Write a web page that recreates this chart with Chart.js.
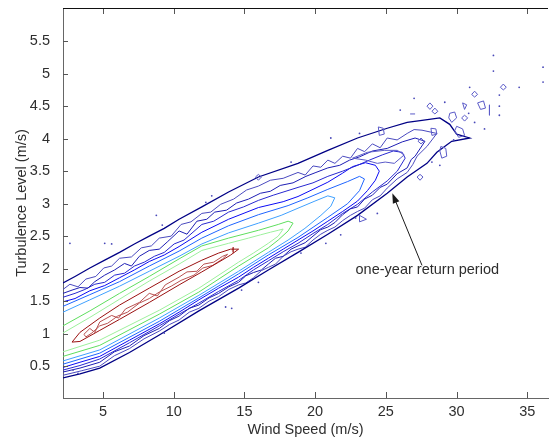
<!DOCTYPE html>
<html>
<head>
<meta charset="utf-8">
<script src="https://cdn.jsdelivr.net/npm/chart.js@4.4.1/dist/chart.umd.min.js"></script>
<style>
  html, body { margin: 0; padding: 0; background: #fff; }
  #wrap { width: 552px; height: 440px; }
</style>
</head>
<body>
<div id="wrap"><canvas id="c" width="552" height="440"></canvas></div>
<script>
// Axis ranges and tick values
const xRange = [2.17, 36.47];
const yRange = [0.01, 6.01];
const xTicks = [5, 10, 15, 20, 25, 30, 35];
const yTicks = [0.5, 1, 1.5, 2, 2.5, 3, 3.5, 4, 4.5, 5, 5.5];

// Contour lines of the joint density, [wind speed, turbulence level]
const returnPeriod = [[2.17,1.78],[3.02,1.88],[4.07,2.01],[5.12,2.13],[6.17,2.25],[7.22,2.38],[8.27,2.50],[9.33,2.62],[10.38,2.76],[11.99,2.95],[13.88,3.18],[15.99,3.41],[18.79,3.62],[20.90,3.82],[23.00,4.01],[25.10,4.16],[26.51,4.25],[27.56,4.28],[28.82,4.32],[29.52,4.22],[30.01,4.07],[30.93,4.01],[29.66,3.96],[28.61,3.79],[27.91,3.62],[26.51,3.41],[25.10,3.16],[23.00,2.82],[20.90,2.53],[18.79,2.25],[16.69,1.98],[14.59,1.70],[11.78,1.35],[8.98,0.98],[6.87,0.71],[4.77,0.47],[3.37,0.38],[2.17,0.32]];

const level2 = [[2.17,1.68],[2.66,1.76],[3.23,1.72],[3.79,1.84],[4.49,1.88],[5.05,2.01],[5.61,2.04],[6.17,2.16],[7.01,2.18],[7.71,2.32],[8.42,2.35],[8.98,2.47],[9.82,2.50],[10.52,2.68],[11.22,2.72],[11.99,2.85],[12.62,2.87],[13.32,2.99],[14.24,3.07],[15.15,3.21],[15.99,3.27],[16.83,3.36],[17.74,3.39],[18.79,3.48],[19.30,3.44],[19.85,3.58],[20.40,3.56],[20.90,3.67],[21.40,3.62],[21.95,3.73],[22.50,3.70],[23.00,3.85],[23.50,3.80],[24.05,3.92],[24.60,3.86],[25.10,4.01],[25.80,3.98],[26.51,4.08],[27.00,4.14],[27.56,4.13],[28.61,4.08],[27.91,3.88],[27.21,3.73],[26.90,3.60],[26.51,3.48],[25.80,3.38],[25.10,3.24],[24.60,3.12],[24.05,3.06],[23.50,2.93],[23.00,2.88],[22.50,2.82],[21.95,2.74],[21.40,2.64],[20.90,2.59],[20.40,2.53],[19.85,2.44],[19.30,2.33],[18.79,2.30],[18.30,2.26],[17.74,2.19],[17.20,2.07],[16.69,2.02],[16.20,1.97],[15.64,1.86],[15.10,1.78],[14.59,1.75],[13.90,1.68],[13.18,1.57],[12.50,1.50],[11.78,1.39],[11.10,1.33],[10.38,1.21],[9.70,1.14],[8.98,1.04],[7.90,0.92],[6.87,0.77],[5.80,0.66],[4.77,0.50],[3.50,0.43],[2.17,0.36]];

const level3 = [[2.17,1.62],[2.81,1.67],[3.37,1.71],[3.93,1.70],[4.42,1.80],[5.12,1.90],[5.82,1.98],[6.52,2.08],[7.01,2.04],[7.57,2.19],[8.27,2.28],[8.98,2.30],[9.54,2.41],[10.38,2.58],[10.94,2.53],[11.64,2.73],[12.34,2.76],[12.90,2.87],[13.74,2.90],[14.45,3.01],[15.29,3.07],[16.13,3.16],[16.83,3.19],[17.53,3.28],[18.44,3.32],[19.35,3.42],[20.06,3.48],[20.90,3.55],[21.74,3.59],[22.44,3.67],[23.14,3.72],[24.05,3.81],[25.10,3.85],[26.16,3.95],[27.07,4.01],[27.77,3.96],[27.07,3.73],[26.80,3.68],[26.51,3.55],[25.80,3.46],[25.10,3.30],[24.60,3.25],[24.05,3.13],[23.50,3.07],[23.00,2.95],[22.50,2.92],[21.95,2.83],[21.40,2.71],[20.90,2.64],[20.40,2.60],[19.85,2.50],[19.30,2.40],[18.79,2.35],[18.30,2.30],[17.74,2.19],[17.20,2.16],[16.69,2.07],[16.20,1.98],[15.64,1.94],[15.10,1.89],[14.59,1.79],[13.90,1.72],[13.18,1.62],[12.50,1.55],[11.78,1.44],[11.10,1.39],[10.38,1.27],[9.70,1.20],[8.98,1.08],[7.90,0.97],[6.87,0.81],[5.80,0.72],[4.77,0.56],[3.37,0.47],[2.17,0.41]];

const level4 = [[2.17,1.56],[3.02,1.62],[3.72,1.68],[4.42,1.76],[5.12,1.79],[5.82,1.90],[6.52,1.93],[7.22,2.04],[7.92,2.10],[8.63,2.19],[9.33,2.25],[10.03,2.38],[10.73,2.44],[11.99,2.68],[12.83,2.73],[13.88,2.87],[14.94,2.95],[15.99,3.05],[17.04,3.13],[18.79,3.25],[19.85,3.32],[20.90,3.42],[21.95,3.50],[23.00,3.59],[23.84,3.67],[24.75,3.75],[25.53,3.81],[26.16,3.79],[26.37,3.70],[25.81,3.50],[25.10,3.35],[24.05,3.18],[23.00,2.99],[21.95,2.85],[20.90,2.68],[19.85,2.54],[18.79,2.39],[17.74,2.26],[16.69,2.12],[15.64,1.98],[14.59,1.82],[13.18,1.65],[11.78,1.47],[10.38,1.30],[8.98,1.12],[6.87,0.86],[4.77,0.61],[3.37,0.51],[2.17,0.44]];

const level5 = [[2.17,1.49],[3.02,1.54],[4.07,1.66],[5.12,1.74],[6.17,1.86],[7.22,1.98],[8.27,2.11],[9.33,2.21],[10.38,2.34],[11.99,2.56],[13.88,2.76],[15.99,2.94],[17.74,3.03],[18.79,3.11],[19.85,3.22],[20.90,3.33],[21.95,3.47],[22.65,3.57],[23.56,3.63],[24.26,3.59],[24.54,3.50],[24.26,3.36],[23.70,3.20],[23.00,3.04],[21.95,2.88],[20.90,2.73],[19.85,2.58],[18.79,2.44],[17.74,2.30],[16.69,2.16],[15.64,2.02],[14.59,1.87],[13.18,1.70],[11.78,1.52],[10.38,1.33],[8.98,1.15],[6.87,0.90],[4.77,0.65],[3.37,0.56],[2.17,0.48]];

const level6 = [[2.17,1.42],[4.07,1.60],[6.17,1.80],[8.27,2.04],[10.38,2.27],[11.99,2.47],[13.88,2.66],[15.99,2.83],[18.09,2.97],[19.49,3.09],[20.90,3.22],[22.30,3.34],[23.14,3.42],[23.49,3.38],[23.14,3.20],[22.30,3.00],[20.90,2.79],[18.79,2.48],[16.69,2.21],[14.59,1.92],[11.78,1.55],[8.98,1.19],[4.77,0.70],[2.17,0.53]];

const level7 = [[2.17,1.33],[4.07,1.52],[6.17,1.73],[8.27,1.96],[10.38,2.19],[11.99,2.38],[13.88,2.55],[15.99,2.70],[17.60,2.82],[18.79,2.93],[19.99,3.04],[20.90,3.12],[21.39,3.09],[21.11,2.96],[20.41,2.82],[19.28,2.62],[18.09,2.44],[16.69,2.25],[14.59,1.96],[11.78,1.59],[8.98,1.24],[4.77,0.75],[2.17,0.58]];

const level8a = [[2.17,1.12],[4.07,1.35],[6.17,1.62],[8.27,1.88],[10.38,2.15],[11.99,2.35],[13.88,2.47],[15.99,2.59],[17.39,2.68],[18.09,2.73],[18.44,2.70],[18.09,2.58],[17.39,2.44],[16.69,2.32],[14.59,2.04],[11.78,1.64],[8.98,1.30],[4.77,0.82],[2.17,0.65]];

const level8b = [[2.17,1.01],[4.07,1.25],[6.17,1.53],[8.27,1.81],[10.38,2.07],[11.99,2.28],[13.88,2.39],[15.29,2.47],[16.13,2.52],[16.83,2.56],[17.39,2.59],[17.74,2.61],[17.39,2.50],[16.69,2.39],[15.64,2.24],[14.59,2.10],[11.78,1.70],[8.98,1.36],[4.77,0.90],[2.17,0.72]];

const level9 = [[2.81,0.87],[3.37,1.02],[4.77,1.24],[6.17,1.44],[8.27,1.70],[10.38,1.96],[11.99,2.13],[13.18,2.24],[14.03,2.30],[14.59,2.30],[14.03,2.21],[13.18,2.10],[11.99,1.95],[10.38,1.75],[8.27,1.48],[6.17,1.22],[4.77,1.05],[3.37,0.88],[2.81,0.87]];

const level10 = [[3.65,0.99],[4.07,1.08],[4.42,1.02],[4.77,1.18],[5.61,1.28],[6.10,1.24],[6.59,1.38],[7.57,1.48],[8.27,1.62],[8.84,1.58],[9.40,1.75],[10.38,1.87],[10.94,1.95],[11.64,1.96],[12.13,2.07],[12.83,2.10],[13.46,2.19],[13.81,2.22],[13.46,2.15],[12.76,2.05],[12.06,2.01],[11.43,1.90],[10.52,1.82],[9.82,1.73],[8.98,1.64],[8.27,1.54],[7.57,1.47],[6.73,1.33],[6.03,1.27],[5.33,1.16],[4.77,1.12],[4.21,1.01],[3.79,0.95],[3.65,0.99]];

const level10Spot = [[14.20,2.33],[14.25,2.28],[14.20,2.24],[14.15,2.28],[14.20,2.33]];

// Small isolated contour islands, mostly in the sparse high-wind region
const islands = [
  [[33.31,4.84],[33.52,4.79],[33.31,4.75],[33.10,4.79],[33.31,4.84]],
  [[31.28,4.73],[31.49,4.68],[31.28,4.64],[31.07,4.68],[31.28,4.73]],
  [[31.49,4.55],[31.91,4.58],[32.05,4.47],[31.70,4.45],[31.49,4.55]],
  [[30.43,4.55],[30.72,4.52],[30.57,4.45],[30.43,4.55]],
  [[32.33,4.52],[32.33,4.36]],
  [[30.57,4.36],[30.79,4.32],[30.57,4.27],[30.36,4.32],[30.57,4.36]],
  [[29.52,4.39],[29.87,4.41],[30.01,4.32],[29.66,4.25],[29.45,4.32],[29.52,4.39]],
  [[30.01,4.19],[30.43,4.15],[30.57,4.05],[30.15,4.02],[29.87,4.12],[30.01,4.19]],
  [[28.12,4.55],[28.33,4.50],[28.12,4.45],[27.91,4.50],[28.12,4.55]],
  [[28.47,4.47],[28.68,4.42],[28.47,4.38],[28.26,4.42],[28.47,4.47]],
  [[26.72,4.38],[27.07,4.38]],
  [[28.19,4.16],[28.54,4.15],[28.61,4.07],[28.26,4.05],[28.19,4.16]],
  [[27.42,3.45],[27.63,3.41],[27.42,3.36],[27.21,3.41],[27.42,3.45]],
  [[28.89,3.88],[29.24,3.85],[29.31,3.73],[28.96,3.70],[28.82,3.81],[28.89,3.88]],
  [[23.14,2.82],[23.63,2.76],[23.14,2.72],[23.14,2.82]],
  [[15.99,3.45],[16.20,3.41],[15.99,3.36],[15.78,3.41],[15.99,3.45]],
  [[24.47,4.18],[24.82,4.16],[24.89,4.07],[24.54,4.05],[24.47,4.18]],
  [[27.49,4.01],[27.70,3.96],[27.49,3.92],[27.28,3.96],[27.49,4.01]],
  [[22.65,3.70],[23.70,3.79],[24.89,3.82],[25.81,3.82],[26.30,3.75],[25.60,3.62],[24.96,3.64],[24.40,3.62],[23.56,3.67],[22.65,3.70]]
];

// Single-cell contour specks
const specks = [[32.61,5.28],[32.61,5.04],[36.12,5.10],[36.12,4.87],[34.43,4.79],[30.93,4.79],[29.17,4.56],[27.00,4.62],[26.02,4.44],[33.03,4.67],[33.03,4.50],[33.03,4.36],[31.98,4.15],[31.28,4.25],[30.86,4.39],[29.80,3.98],[28.82,3.59],[28.26,3.64],[2.66,2.39],[5.12,2.39],[5.61,2.38],[8.77,2.82],[9.19,2.67],[13.67,1.41],[14.10,1.39],[9.33,1.01],[2.88,0.44],[3.23,0.39],[12.69,3.12],[12.27,3.02],[15.99,1.79],[14.80,1.67],[21.11,4.01],[18.30,3.64],[23.14,4.08],[24.40,2.85],[22.86,2.78],[20.76,2.39],[19.00,2.24],[21.81,2.52]];

// Annotation for the outermost contour
const arrowTail = [27.56, 2.05];
const arrowTip = [25.46, 3.16];
const noteAnchor = [22.86, 1.98];
const noteText = 'one-year return period';

const FONT = '"Liberation Sans", Arial, sans-serif';
const TEXT_COLOR = '#2e2e2e';
const pts = arr => arr.map(([x, y]) => ({ x, y }));

const lineSet = (data, color, width) => ({
  data: pts(data), borderColor: color, borderWidth: width,
  showLine: true, pointRadius: 0, fill: false, tension: 0
});

const datasets = [
  ...islands.map(d => lineSet(d, '#5a5ac8', 1)),
  { data: pts(specks), showLine: false, pointRadius: 0.9, pointBorderWidth: 0,
    pointBackgroundColor: '#4848b8', backgroundColor: '#4848b8' },
  lineSet(returnPeriod, '#000085', 1.3),
  lineSet(level2, '#4a4abf', 1),
  lineSet(level3, '#1e1eb4', 1),
  lineSet(level4, '#2828d0', 1),
  lineSet(level5, '#0a0af5', 1),
  lineSet(level6, '#1e64ff', 1),
  lineSet(level7, '#3fa0ff', 1),
  lineSet(level8a, '#5ede5e', 1),
  lineSet(level8b, '#9cf09c', 1),
  lineSet(level9, '#9a1010', 1),
  lineSet(level10, '#b85050', 1),
  lineSet(level10Spot, '#b85050', 1)
];

// Frame: inward ticks, closed top edge, arrow note
const framePlugin = {
  id: 'frame',
  afterDatasetsDraw(chart) {
    const { ctx, scales: { x, y } } = chart;
    const x0 = x.getPixelForValue(arrowTail[0]), y0 = y.getPixelForValue(arrowTail[1]);
    const x1 = x.getPixelForValue(arrowTip[0]), y1 = y.getPixelForValue(arrowTip[1]);
    const ang = Math.atan2(y1 - y0, x1 - x0);
    const hl = 10, hw = 3.5;
    ctx.save();
    ctx.strokeStyle = '#1a1a1a';
    ctx.fillStyle = '#1a1a1a';
    ctx.lineWidth = 1;
    ctx.beginPath();
    ctx.moveTo(x0, y0);
    ctx.lineTo(x1 - Math.cos(ang) * hl * 0.8, y1 - Math.sin(ang) * hl * 0.8);
    ctx.stroke();
    ctx.beginPath();
    ctx.moveTo(x1, y1);
    ctx.lineTo(x1 - Math.cos(ang) * hl - Math.sin(ang) * hw, y1 - Math.sin(ang) * hl + Math.cos(ang) * hw);
    ctx.lineTo(x1 - Math.cos(ang) * hl + Math.sin(ang) * hw, y1 - Math.sin(ang) * hl - Math.cos(ang) * hw);
    ctx.closePath();
    ctx.fill();
    ctx.font = '14.5px ' + FONT;
    ctx.fillStyle = TEXT_COLOR;
    ctx.textAlign = 'left';
    ctx.textBaseline = 'middle';
    ctx.fillText(noteText, x.getPixelForValue(noteAnchor[0]), y.getPixelForValue(noteAnchor[1]));
    ctx.restore();
  },
  afterDraw(chart) {
    const { ctx, chartArea: a, scales: { x, y } } = chart;
    ctx.save();
    ctx.strokeStyle = '#555';
    ctx.lineWidth = 1;
    ctx.beginPath();
    xTicks.forEach(v => {
      const p = Math.round(x.getPixelForValue(v)) + 0.5;
      ctx.moveTo(p, a.bottom); ctx.lineTo(p, a.bottom - 6);
      ctx.moveTo(p, a.top); ctx.lineTo(p, a.top + 6);
    });
    yTicks.forEach(v => {
      const p = Math.round(y.getPixelForValue(v)) + 0.5;
      ctx.moveTo(a.left, p); ctx.lineTo(a.left + 5, p);
    });
    ctx.stroke();
    ctx.strokeStyle = '#111';
    ctx.beginPath();
    ctx.moveTo(a.left, Math.round(a.top) + 0.5);
    ctx.lineTo(a.right, Math.round(a.top) + 0.5);
    ctx.stroke();
    ctx.restore();
  }
};

new Chart(document.getElementById('c'), {
  type: 'scatter',
  data: { datasets },
  options: {
    responsive: false,
    devicePixelRatio: 1,
    animation: false,
    events: [],
    layout: { padding: { top: 8, right: 0, bottom: 0, left: 0 } },
    plugins: { legend: { display: false }, tooltip: { enabled: false } },
    scales: {
      x: {
        type: 'linear', position: 'bottom',
        min: xRange[0], max: xRange[1],
        afterBuildTicks: s => { s.ticks = xTicks.map(v => ({ value: v })); },
        afterFit: s => { s.height = 42; s.paddingLeft = 0; s.paddingRight = 0; },
        grid: { display: false },
        border: { display: true, color: '#666', width: 1 },
        ticks: { color: TEXT_COLOR, font: { family: FONT, size: 14.5 }, padding: -3, maxRotation: 0, callback: v => String(v) },
        title: { display: true, text: 'Wind Speed (m/s)', color: TEXT_COLOR, font: { family: FONT, size: 14.5 }, padding: { top: 0, bottom: 1 } }
      },
      y: {
        type: 'linear', position: 'left',
        min: yRange[0], max: yRange[1],
        afterBuildTicks: s => { s.ticks = yTicks.map(v => ({ value: v })); },
        afterFit: s => { s.width = 63; s.paddingTop = 0; s.paddingBottom = 0; },
        grid: { display: false },
        border: { display: true, color: '#666', width: 1 },
        ticks: { color: TEXT_COLOR, font: { family: FONT, size: 14.5 }, padding: 5, callback: v => String(v) },
        title: { display: true, text: 'Turbulence Level (m/s)', color: TEXT_COLOR, font: { family: FONT, size: 14.5 }, padding: { top: 13, bottom: 0 } }
      }
    }
  },
  plugins: [framePlugin]
});
</script>
</body>
</html>
